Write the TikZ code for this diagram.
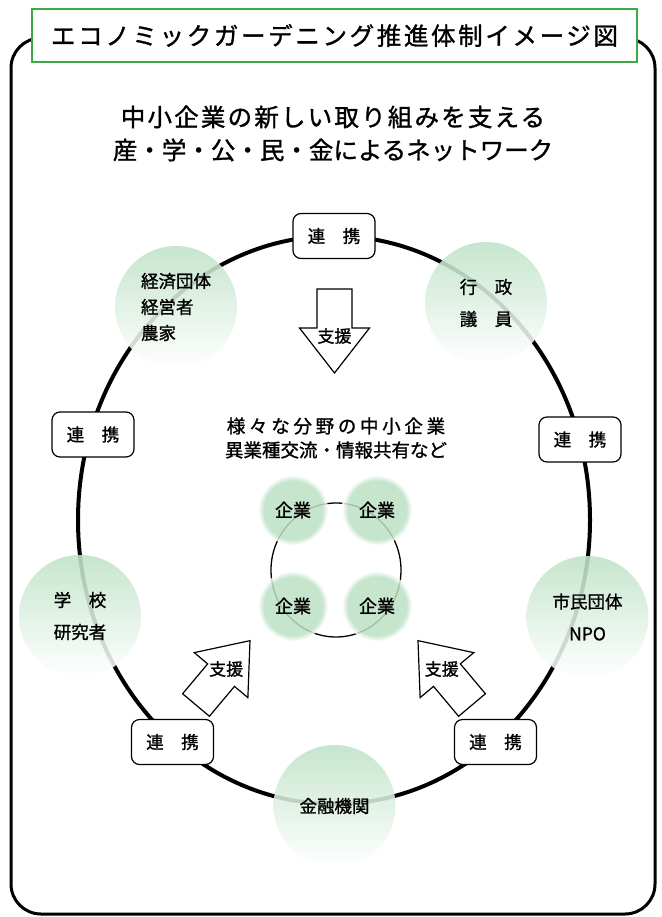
\documentclass[tikz,border=0pt]{standalone}
\usepackage{fontspec}
\setmainfont{Noto Sans CJK JP}[UprightFeatures={FakeBold=1.2}]
\usetikzlibrary{positioning}
\definecolor{titlegreen}{RGB}{60,170,70}
\definecolor{enkgreen}{RGB}{190,226,199}
\definecolor{kigyogreen}{RGB}{188,224,196}
\pgfdeclareradialshading{kigyoblur}{\pgfpoint{0bp}{0bp}}{color(0bp)=(kigyogreen); color(21bp)=(kigyogreen); color(25bp)=(white); color(50bp)=(white)}
\newcommand{\jsize}[2]{\fontsize{#1}{#2}\selectfont}
\newcommand{\sien}[3]{%
  \begin{scope}[shift={#1}, rotate=#2]
    \draw[sienarrow] (-17.5,0) -- (17.5,0) -- (17.5,39) -- (35,39) -- (0,84) -- (-35,39) -- (-17.5,39) -- cycle;
    \node[sientext] (#3) at (0,47) {支援};
  \end{scope}}

\begin{document}
\begin{tikzpicture}[x=1pt, y=-1pt,
  renkei/.style={draw, fill=white, rounded corners=8pt, line width=1.2pt, minimum width=82pt, minimum height=45pt, inner sep=0pt, font=\jsize{17.5}{20}},
  enbox/.style={circle, minimum size=122pt, inner sep=0pt, top color=enkgreen, bottom color=white, fill opacity=.88, text opacity=1, font=\jsize{17.5}{26}},
  kigyo/.style={circle, minimum size=70pt, inner sep=0pt, shade, shading=kigyoblur, fill opacity=.85, text opacity=1, font=\jsize{18}{20}\addfontfeatures{FakeBold=2}},
  sienarrow/.style={draw, fill=white, line width=1.2pt, line join=miter},
  sientext/.style={inner sep=0pt, font=\jsize{17}{20}}]
\useasboundingbox (0,0) rectangle (661,917);

% Frame
\draw[line width=3pt, rounded corners=30pt] (11,38) rectangle (655,914);

% Title
\node[draw=titlegreen, line width=1.5pt, fill=white, minimum width=605pt, minimum height=53pt, inner sep=0pt, font=\jsize{24.5}{28}] (title) at (334.5,35.5) {\addfontfeatures{LetterSpace=10.8}エコノミックガーデニング推進体制イメージ図};
\node[align=center, font=\jsize{24.5}{33}] (sub) at (333,133.5) {{\addfontfeatures{LetterSpace=9}中小企業の新しい取り組みを支える}\\産・学・公・民・金によるネットワーク};

% Ring
\draw[line width=4pt] (334,520) ellipse [x radius=256, y radius=284];

% Members
\node[enbox, align=left] (keizai) at (176,307) {経済団体\\経営者\\農家};
\node[enbox, align=center] (gyosei) at (486,303) {行　政\\[6pt]議　員};
\node[enbox, align=center] (gakko) at (80,616) {学　校\\[6pt]研究者};
\node[enbox, align=center] (shimin) at (587.5,617) {市民団体\\[6pt]NPO};
\node[enbox] (kinyu) at (334.5,806) {金融機関};

% Renkei
\node[renkei] (r1) at (334,236) {連　携};
\node[renkei] (r2) at (93,434.5) {連　携};
\node[renkei] (r3) at (580,439.5) {連　携};
\node[renkei] (r4) at (172.5,742) {連　携};
\node[renkei] (r5) at (495.5,742) {連　携};

% Kigyo
\node[align=center, font=\jsize{18.5}{24}] (bunya) at (336,438) {{\addfontfeatures{LetterSpace=20}様々な分野の中小企業}\\異業種交流・情報共有など};
\draw[line width=1.3pt] (336,570) ellipse [x radius=65, y radius=67];
\node[kigyo] (k1) at (293,510) {企業};
\node[kigyo] (k2) at (377,510) {企業};
\node[kigyo] (k3) at (293,606) {企業};
\node[kigyo] (k4) at (377,606) {企業};

% Sien
\sien{(334.5,289)}{0}{s1}
\sien{(196,705)}{140}{s2}
\sien{(472,705)}{-140}{s3}
\end{tikzpicture}
\end{document}
